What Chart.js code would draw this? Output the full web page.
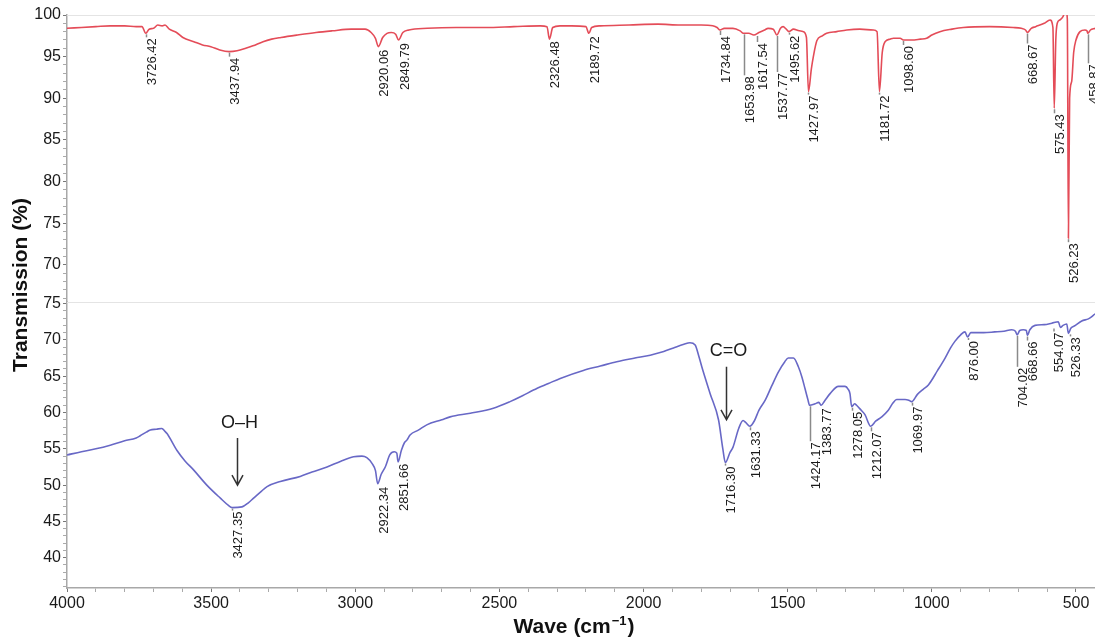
<!DOCTYPE html>
<html>
<head>
<meta charset="utf-8">
<script src="https://cdn.jsdelivr.net/npm/chart.js@4.4.1/dist/chart.umd.min.js"></script>
<style>
html,body{margin:0;padding:0;background:#fff;}
canvas{display:block;}
</style>
</head>
<body>
<canvas id="c" width="1095" height="637"></canvas>
<script>
// ---------- DATA ----------
// Upper spectrum (red): wavenumber (cm-1) and transmission (%)
const topWave = [4000,3950,3900,3850,3800,3760,3740,3726.42,3715,3700,3685,3670,3660,3645,3620,3598,3560,3530,3501,3470,3437.94,3410,3380,3355,3320,3290,3258,3200,3136,3080,3014,2966,2945,2930,2920.06,2905,2890,2875,2860,2849.79,2835,2814,2750,2650,2550,2450,2358,2335,2326.48,2315,2290,2250,2200,2189.72,2180,2150,2050,1950,1873,1800,1760,1745,1734.84,1720,1690,1665,1653.98,1635,1617.54,1600,1580,1568,1550,1537.77,1525,1516,1505,1495.62,1480,1460,1446,1435,1427.97,1418,1411,1399,1380,1365,1330,1295,1250,1203,1190,1181.72,1172,1162,1145,1133,1110,1098.60,1070,1040,1018,1000,972,930,891,800,718,690,675,668.67,655,640,610,590,580,575.43,570,565,556,545,535,530,526.23,522,515,508,500,486,469,462,458.87,450,434];
const topTrans = [98.4,98.5,98.6,98.7,98.7,98.6,98.6,97.8,98.3,98.4,98.8,98.7,98.8,98.3,97.9,97.3,96.8,96.4,96.2,95.8,95.6,95.7,96.0,96.3,96.8,97.1,97.3,97.6,97.9,98.1,98.3,98.3,97.9,97.2,96.2,97.3,97.8,97.9,97.7,97.0,97.9,98.2,98.4,98.5,98.5,98.6,98.7,98.6,97.1,98.5,98.7,98.7,98.6,97.8,98.5,98.7,98.8,98.9,98.8,98.8,98.7,98.5,98.2,98.4,98.4,98.1,97.8,97.8,97.6,97.9,98.2,98.4,98.3,97.6,98.4,98.6,98.3,98.0,98.3,98.1,98.0,97.3,90.8,93.5,95.0,96.9,97.5,97.8,98.0,98.2,98.3,98.2,98.0,90.8,95.5,96.8,97.1,97.2,97.2,97.0,97.0,97.1,97.2,97.6,98.0,98.3,98.5,98.6,98.5,98.4,98.2,97.9,98.4,98.6,99.0,99.4,98.5,88.8,97.0,99.0,99.4,99.8,100.6,99.5,73.2,90.0,92.0,95.5,97.0,98.0,98.2,98.1,97.8,98.2,98.4];

// Lower spectrum (blue)
const botWave = [4000,3950,3900,3850,3800,3760,3746,3725,3711,3690,3671,3660,3653,3619,3590,3561,3515,3468,3440,3427.35,3393,3370,3353,3330,3306,3260,3191,3150,3098,3050,3006,2977,2960,2942,2930,2922.34,2910,2896,2880,2865,2856,2851.66,2840,2830,2821,2810,2780,2752,2700,2671,2601,2521,2463,2420,2382,2330,2289,2209,2150,2093,2030,1977,1930,1896,1860,1839,1821,1810,1798,1769,1740,1725,1716.30,1700,1690,1670,1655,1645,1631.33,1615,1600,1578,1555,1532,1510,1498,1480,1463,1450,1440,1430,1424.17,1405,1392,1383.77,1372,1353,1324,1301,1290,1284,1278.05,1268,1261,1245,1232,1212.07,1195,1174,1151,1135,1122,1093,1080,1069.97,1050,1030,1012,980,954,935,920,900,885,876.00,865,851,820,782,750,723,710,704.02,695,683,672,668.66,660,642,610,584,561,554.07,545,532,526.33,518,502,480,457,445,434];
const botTrans = [54.15,54.6,55.0,55.5,56.1,56.5,56.8,57.3,57.6,57.7,57.8,57.4,57.1,54.8,53.3,52.1,50.0,48.2,47.2,46.9,47.0,47.6,48.2,49.0,49.8,50.5,51.2,51.8,52.5,53.3,53.9,54.0,53.8,53.0,52.0,50.2,51.5,52.5,54.2,54.6,54.4,53.2,54.8,55.8,56.2,56.9,57.6,58.3,59.0,59.4,59.9,60.6,61.5,62.3,63.1,64.0,64.7,65.8,66.4,67.0,67.5,67.9,68.4,68.9,69.4,69.6,69.3,68.0,66.3,62.6,59.0,55.0,53.1,54.5,55.2,57.8,58.9,58.6,58.1,58.9,60.3,61.7,63.7,65.6,67.0,67.5,67.5,66.3,64.8,63.3,61.8,61.0,61.2,61.4,61.0,61.6,62.6,63.6,63.6,63.2,62.6,60.8,61.2,61.0,60.3,59.7,58.1,58.8,59.4,60.3,61.3,61.8,61.8,61.7,61.5,62.5,63.2,63.8,65.8,67.5,68.9,69.8,70.7,71.1,70.4,71.0,71.0,71.0,71.1,71.2,71.4,71.2,70.7,71.3,71.4,71.3,70.6,71.4,72.0,72.1,72.3,72.5,71.7,72.0,72.2,70.9,71.6,72.0,72.6,72.9,73.2,73.6];

// Peak labels
const topPeakLabels = ['3726.42','3437.94','2920.06','2849.79','2326.48','2189.72','1734.84','1653.98','1617.54','1537.77','1495.62','1427.97','1181.72','1098.60','668.67','575.43','526.23','458.87'];
const botPeakLabels = ['3427.35','2922.34','2851.66','1716.30','1631.33','1424.17','1383.77','1278.05','1212.07','1069.97','876.00','704.02','668.66','554.07','526.33'];

// Band annotations (lower spectrum)
const bandLabels = ['O\u2013H','C=O'];
const bandWave = [3410, 1714];
const bandTextAt = [58.6, 68.4];
const bandArrowFrom = [56.5, 66.3];
const bandArrowTo = [50.0, 59.0];

// Axis ranges
const xMin = 434, xMax = 4000;
const topMin = 65.6, topMax = 100;
const botMin = 35.83, botMax = 75.29;

// ---------- STYLE (leader lengths and label nudges, px) ----------
const topPeakLead = [4,5,2,2,1,2,5,42,7,37,3,3,3,5,11,5,4,30];
const topPeakShift = [0,0,0,0,0,0,0,1,3,0,0,0,0,0,0,0,0,0];
const botPeakLead = [3,2,1,3,4,36,2,4,5,4,3,32,5,4,3];
const botPeakShift = [0,0,0,0,0,0,0,0,0,0,0,0,0,-6.5,2];

const FONT = '"Liberation Sans", Arial, Helvetica, sans-serif';
const RED = 'rgb(228,76,88)';
const BLUE = 'rgb(104,104,198)';

function valueAt(waves, vals, w) {
  for (let i = 0; i < waves.length - 1; i++) {
    const a = waves[i], b = waves[i + 1];
    if (w <= a && w >= b) {
      const t = (a - w) / ((a - b) || 1);
      return vals[i] + t * (vals[i + 1] - vals[i]);
    }
  }
  return vals[vals.length - 1];
}

function drawPeaks(chart, scaleId, labels, leads, shifts, waves, vals) {
  const ctx = chart.ctx, xs = chart.scales.x, ys = chart.scales[scaleId];
  labels.forEach((lab, i) => {
    const w = parseFloat(lab);
    const v = valueAt(waves, vals, w);
    const px0 = Math.round(xs.getPixelForValue(w)) + 0.5;
    const px = px0 + shifts[i];
    const py = ys.getPixelForValue(v);
    const end = py + leads[i];
    ctx.save();
    if (leads[i] > 2) {
      ctx.strokeStyle = '#8a8a8a';
      ctx.lineWidth = 1.5;
      ctx.beginPath();
      ctx.moveTo(px, py + 1);
      ctx.lineTo(px, end);
      ctx.stroke();
    }
    ctx.translate(px - 1, end + 1);
    ctx.rotate(-Math.PI / 2);
    ctx.font = '13px ' + FONT;
    ctx.fillStyle = '#1a1a1a';
    ctx.textAlign = 'right';
    ctx.textBaseline = 'top';
    ctx.fillText(lab, 0, 0);
    ctx.restore();
  });
}

const overlay = {
  id: 'overlay',
  beforeDatasetsDraw(chart) {
    const ctx = chart.ctx, ca = chart.chartArea;
    ['yTop', 'yBot'].forEach(id => {
      const s = chart.scales[id];
      ctx.save();
      ctx.strokeStyle = '#e4e4e4';
      ctx.lineWidth = 1;
      ctx.beginPath();
      ctx.moveTo(ca.left, Math.round(s.top) + 0.5);
      ctx.lineTo(ca.right, Math.round(s.top) + 0.5);
      ctx.stroke();
      ctx.restore();
    });
  },
  afterDatasetsDraw(chart) {
    const ctx = chart.ctx, xs = chart.scales.x, yb = chart.scales.yBot;
    drawPeaks(chart, 'yTop', topPeakLabels, topPeakLead, topPeakShift, topWave, topTrans);
    drawPeaks(chart, 'yBot', botPeakLabels, botPeakLead, botPeakShift, botWave, botTrans);

    // band arrows
    bandLabels.forEach((lab, i) => {
      const x = Math.round(xs.getPixelForValue(bandWave[i])) + 0.5;
      const yt = yb.getPixelForValue(bandTextAt[i]);
      const y1 = yb.getPixelForValue(bandArrowFrom[i]);
      const y2 = yb.getPixelForValue(bandArrowTo[i]);
      ctx.save();
      ctx.font = '18px ' + FONT;
      ctx.fillStyle = '#1a1a1a';
      ctx.textAlign = 'center';
      ctx.textBaseline = 'middle';
      ctx.fillText(lab, x + 2, yt);
      ctx.strokeStyle = '#333';
      ctx.lineWidth = 1.5;
      ctx.beginPath();
      ctx.moveTo(x, y1);
      ctx.lineTo(x, y2);
      ctx.moveTo(x - 5.5, y2 - 10);
      ctx.lineTo(x, y2);
      ctx.lineTo(x + 5.5, y2 - 10);
      ctx.stroke();
      ctx.restore();
    });

    // axis titles
    ctx.save();
    ctx.fillStyle = '#111';
    ctx.font = 'bold 21px ' + FONT;
    ctx.translate(21, 285);
    ctx.rotate(-Math.PI / 2);
    ctx.textAlign = 'center';
    ctx.textBaseline = 'middle';
    ctx.fillText('Transmission (%)', 0, 0);
    ctx.restore();

    ctx.save();
    ctx.fillStyle = '#111';
    const f1 = 'bold 21px ' + FONT, f2 = 'bold 13px ' + FONT;
    const p1 = 'Wave (cm', sup = '\u22121', p3 = ')';
    ctx.font = f1;
    const w1 = ctx.measureText(p1).width, w3 = ctx.measureText(p3).width;
    ctx.font = f2;
    const w2 = ctx.measureText(sup).width;
    const cx = (chart.chartArea.left + chart.chartArea.right) / 2 - 7;
    let x = cx - (w1 + w2 + w3 + 2) / 2;
    const base = 633;
    ctx.textAlign = 'left';
    ctx.textBaseline = 'alphabetic';
    ctx.font = f1; ctx.fillText(p1, x, base); x += w1 + 1;
    ctx.font = f2; ctx.fillText(sup, x, base - 8); x += w2 + 1;
    ctx.font = f1; ctx.fillText(p3, x, base);
    ctx.restore();
  }
};

function yAxis(min, max) {
  return {
    type: 'linear',
    position: 'left',
    stack: 'panels',
    stackWeight: 1,
    min: min,
    max: max,
    afterFit(s) { s.width = 67; },
    border: { display: true, color: '#a8a8a8', width: 1.5 },
    grid: {
      display: true, drawOnChartArea: false, drawTicks: true, tickLength: 4,
      color: (c) => (c.tick && c.tick.value % 5 === 0) ? '#777' : '#aaa',
      lineWidth: 1
    },
    ticks: {
      stepSize: 1, maxTicksLimit: 1000, autoSkip: false, includeBounds: false,
      padding: 2, color: '#1a1a1a',
      font: { family: FONT, size: 16 },
      callback: (v) => (v % 5 === 0 ? String(v) : '')
    }
  };
}

new Chart(document.getElementById('c'), {
  type: 'line',
  data: {
    datasets: [
      {
        label: 'top',
        data: topWave.map((w, i) => ({ x: w, y: topTrans[i] })),
        xAxisID: 'x', yAxisID: 'yTop',
        borderColor: RED, borderWidth: 1.6, pointRadius: 0,
        cubicInterpolationMode: 'monotone', fill: false
      },
      {
        label: 'bottom',
        data: botWave.map((w, i) => ({ x: w, y: botTrans[i] })),
        xAxisID: 'x', yAxisID: 'yBot',
        borderColor: BLUE, borderWidth: 1.6, pointRadius: 0,
        cubicInterpolationMode: 'monotone', fill: false
      }
    ]
  },
  options: {
    responsive: false,
    animation: false,
    devicePixelRatio: 1,
    layout: { padding: { top: 15, left: 0, right: 0, bottom: 0 } },
    plugins: { legend: { display: false }, tooltip: { enabled: false } },
    scales: {
      x: {
        type: 'linear',
        reverse: true,
        min: xMin,
        max: xMax,
        afterFit(s) { s.height = 49; },
        border: { display: true, color: '#a8a8a8', width: 1.5 },
        grid: {
          display: true, drawOnChartArea: false, drawTicks: true, tickLength: 4,
          color: (c) => (c.tick && c.tick.value % 500 === 0) ? '#777' : '#aaa'
        },
        ticks: {
          stepSize: 100, maxTicksLimit: 1000, autoSkip: false, includeBounds: false,
          maxRotation: 0, minRotation: 0, padding: 2, color: '#1a1a1a',
          font: { family: FONT, size: 16 },
          callback: (v) => (v % 500 === 0 ? String(v) : '')
        }
      },
      yBot: yAxis(botMin, botMax),
      yTop: yAxis(topMin, topMax)
    }
  },
  plugins: [overlay]
});
</script>
</body>
</html>
